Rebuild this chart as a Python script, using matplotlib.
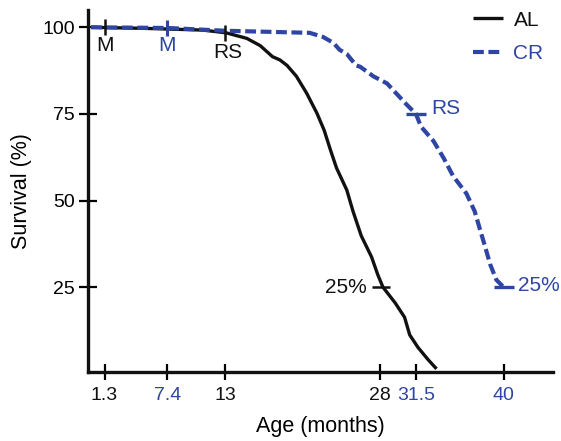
import matplotlib
matplotlib.use("Agg")
import matplotlib.pyplot as plt

# survival curves (age in months, survival in %)
al_age = [0, 5, 10.8, 13.1, 15.1, 16.4, 17.6, 18.3, 19.0, 19.9, 20.9, 21.9, 22.6,
          23.2, 23.8, 24.8, 25.4, 26.2, 27.2, 27.8, 28.3, 29.5, 30.4, 30.9, 31.7,
          32.7, 33.5]
al_surv = [100, 99.7, 99.2, 98.4, 96.8, 94.7, 91.5, 90.6, 89.0, 85.9, 81.0, 75.2,
           70.3, 64.7, 59.4, 53.0, 46.9, 39.8, 33.7, 28.6, 25.0, 20.4, 16.3, 11.2,
           7.6, 4.0, 1.4]

cr_age = [0, 7.4, 13, 21.2, 22.5, 23.5, 24.1, 24.8, 25.7, 26.1, 27.4, 28.7, 29.6,
          30.6, 31.5, 32.0, 33.2, 34.2, 35.1, 36.4, 37.2, 37.7, 38.2, 38.7, 39.3, 40.0]
cr_surv = [100, 99.8, 99.0, 98.4, 97.2, 95.5, 93.5, 92.3, 89.0, 88.6, 85.8, 83.8,
           80.9, 77.7, 75.0, 71.3, 67.2, 62.2, 57.1, 52.0, 46.9, 41.8, 36.8, 31.6,
           27.1, 25.0]

# milestone ages: M (maturity), RS (reference survival), 25% survival
al_marks = {"M": (1.3, 100), "RS": (13, 98.4), "25%": (28.1, 25)}
cr_marks = {"M": (7.4, 99.8), "RS": (31.5, 75), "25%": (40, 25)}

x_ticks = [1.3, 7.4, 13, 28, 31.5, 40]
x_tick_labels = ["1.3", "7.4", "13", "28", "31.5", "40"]
x_tick_group = ["AL", "CR", "AL", "AL", "CR", "CR"]
y_ticks = [25, 50, 75, 100]

BLACK = "#111111"
BLUE = "#2e45a3"
colors = {"AL": BLACK, "CR": BLUE}

plt.rcParams["font.family"] = ["Liberation Sans", "DejaVu Sans"]

fig = plt.figure(figsize=(5.61, 4.41), dpi=100)
ax = fig.add_axes([0.1569, 0.1565, 0.8289, 0.8209])

ax.plot(al_age, al_surv, color=BLACK, lw=2.4, label="AL", solid_capstyle="butt")
ax.plot(cr_age, cr_surv, color=BLUE, lw=3.0, dashes=(2.6, 1.1), label="CR")

# vertical tick marks for M and black RS, horizontal for the rest
for name, (x, y) in al_marks.items():
    if name == "25%":
        ax.plot([x], [y], marker="_", ms=13, mew=1.8, color=BLACK)
    else:
        ax.plot([x], [y], marker="|", ms=11, mew=1.8, color=BLACK)
for name, (x, y) in cr_marks.items():
    if name == "M":
        ax.plot([x], [y], marker="|", ms=11, mew=2.2, color=BLUE)
    else:
        ax.plot([x], [y], marker="_", ms=14, mew=2.4, color=BLUE)

fs = 15
ax.text(al_marks["M"][0], 97.5, "M", color=BLACK, fontsize=fs, ha="center", va="top")
ax.text(cr_marks["M"][0], 97.5, "M", color=BLUE, fontsize=fs, ha="center", va="top")
ax.text(al_marks["RS"][0] + 0.3, 95.5, "RS", color=BLACK, fontsize=fs, ha="center", va="top")
ax.text(cr_marks["RS"][0] + 1.5, 76.5, "RS", color=BLUE, fontsize=fs, ha="left", va="center")
ax.text(al_marks["25%"][0] - 1.4, 25, "25%", color=BLACK, fontsize=fs, ha="right", va="center")
ax.text(cr_marks["25%"][0] + 1.4, 25.5, "25%", color=BLUE, fontsize=fs, ha="left", va="center")

ax.set_xlim(-0.3, 44.8)
ax.set_ylim(0.5, 105)

for s in ["top", "right"]:
    ax.spines[s].set_visible(False)
for s in ["left", "bottom"]:
    ax.spines[s].set_linewidth(2.4)
    ax.spines[s].set_color(BLACK)

ax.set_xticks(x_ticks)
ax.set_xticklabels(x_tick_labels)
ax.set_yticks(y_ticks)
ax.tick_params(axis="x", direction="inout", length=11, width=1.6, pad=5, labelsize=14)
ax.tick_params(axis="y", direction="inout", length=13, width=1.6, pad=3, labelsize=14)
for tick, lab, grp in zip(ax.xaxis.get_major_ticks(), ax.get_xticklabels(), x_tick_group):
    tick.tick1line.set_color(colors[grp])
    lab.set_color(colors[grp])

ax.set_xlabel("Age (months)", fontsize=15.5, labelpad=9)
ax.set_ylabel("Survival (%)", fontsize=15.5, labelpad=7)

leg = ax.legend(loc="upper right", bbox_to_anchor=(1.02, 1.05), frameon=False,
                fontsize=fs, handlelength=1.45, handletextpad=0.48, labelspacing=0.7)
for txt, grp in zip(leg.get_texts(), ["AL", "CR"]):
    txt.set_color(colors[grp])

fig.savefig("out.png", dpi=100)
